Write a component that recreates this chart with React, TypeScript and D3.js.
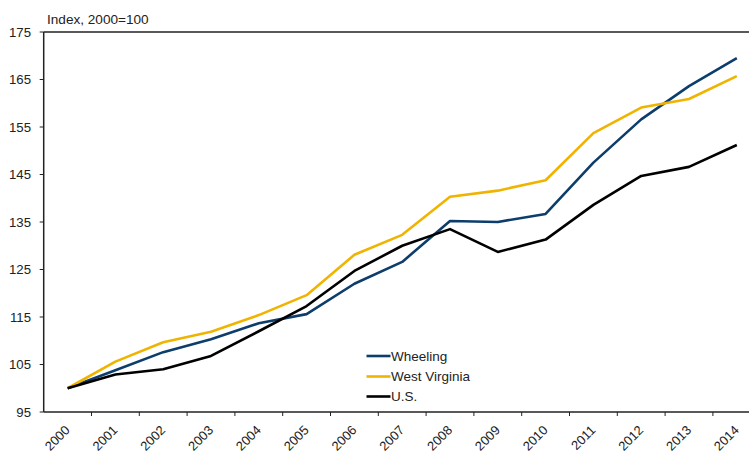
import React from "react";
import * as d3 from "d3";

const years = ["2000","2001","2002","2003","2004","2005","2006","2007","2008","2009","2010","2011","2012","2013","2014"];
const wheeling = [100, 103.8, 107.6, 110.3, 113.7, 115.6, 122.0, 126.6, 135.2, 135.0, 136.7, 147.5, 156.6, 163.6, 169.5];
const westVirginia = [100, 105.6, 109.7, 111.9, 115.4, 119.6, 128.1, 132.3, 140.3, 141.6, 143.8, 153.7, 159.1, 160.9, 165.7];
const us = [100, 102.9, 104.0, 106.8, 112.0, 117.3, 124.7, 130.0, 133.5, 128.7, 131.3, 138.6, 144.7, 146.6, 151.2];
const yTicks = [95, 105, 115, 125, 135, 145, 155, 165, 175];
const seriesNames = ["Wheeling", "West Virginia", "U.S."];
const seriesColors = ["#0d3d6b", "#f0b400", "#000000"];

const W = 749, H = 453;
const left = 43.7, right = 760.7, top = 32, bottom = 412;

export default function App() {
  const x = d3.scaleBand<string>().domain(years).range([left, right]).padding(0);
  const y = d3.scaleLinear().domain([95, 175]).range([bottom, top]);
  const line = d3.line<number>()
    .x((_, i) => (x(years[i]) as number) + x.bandwidth() / 2)
    .y((d) => y(d));
  const allSeries = [wheeling, westVirginia, us];
  const font = "'Liberation Sans', Arial, Helvetica, sans-serif";
  const legendX = 366.5, legendY = [356, 376.5, 396.5];

  return (
    <svg width={W} height={H} style={{ position: "absolute", left: 0, top: 0, background: "#fff" }} fontFamily={font}>
      <text x={47} y={24} fontSize={13.6} fill="#222">Index, 2000=100</text>
      {/* top frame */}
      <line x1={left} x2={W} y1={top} y2={top} stroke="#222" strokeWidth={1.5} />
      {/* y axis */}
      <line x1={left} x2={left} y1={top} y2={bottom} stroke="#222" strokeWidth={1.5} />
      {yTicks.map((t) => (
        <g key={t}>
          <line x1={left - 4} x2={left} y1={y(t)} y2={y(t)} stroke="#222" strokeWidth={1} />
          <text x={31} y={y(t)} dy="0.35em" textAnchor="end" fontSize={13.2} fill="#222">{t}</text>
        </g>
      ))}
      {/* x axis */}
      <line x1={left} x2={W} y1={bottom} y2={bottom} stroke="#222" strokeWidth={1.5} />
      {years.map((yr) => {
        const bx = (x(yr) as number) + x.bandwidth();
        const cx = (x(yr) as number) + x.bandwidth() / 2;
        return (
          <g key={yr}>
            <line x1={bx} x2={bx} y1={bottom} y2={bottom + 4} stroke="#222" strokeWidth={1} />
            <text transform={`translate(${cx + 3},${bottom + 19}) rotate(-45)`} textAnchor="end" fontSize={13} fill="#222">{yr}</text>
          </g>
        );
      })}
      {allSeries.map((s, i) => (
        <path key={i} d={line(s) as string} fill="none" stroke={seriesColors[i]} strokeWidth={2.6} strokeLinejoin="round" />
      ))}
      {seriesNames.map((n, i) => (
        <g key={n}>
          <line x1={legendX} x2={legendX + 24} y1={legendY[i]} y2={legendY[i]} stroke={seriesColors[i]} strokeWidth={2.6} />
          <text x={legendX + 24.5} y={legendY[i]} dy="0.35em" fontSize={13.5} fill="#222">{n}</text>
        </g>
      ))}
    </svg>
  );
}
